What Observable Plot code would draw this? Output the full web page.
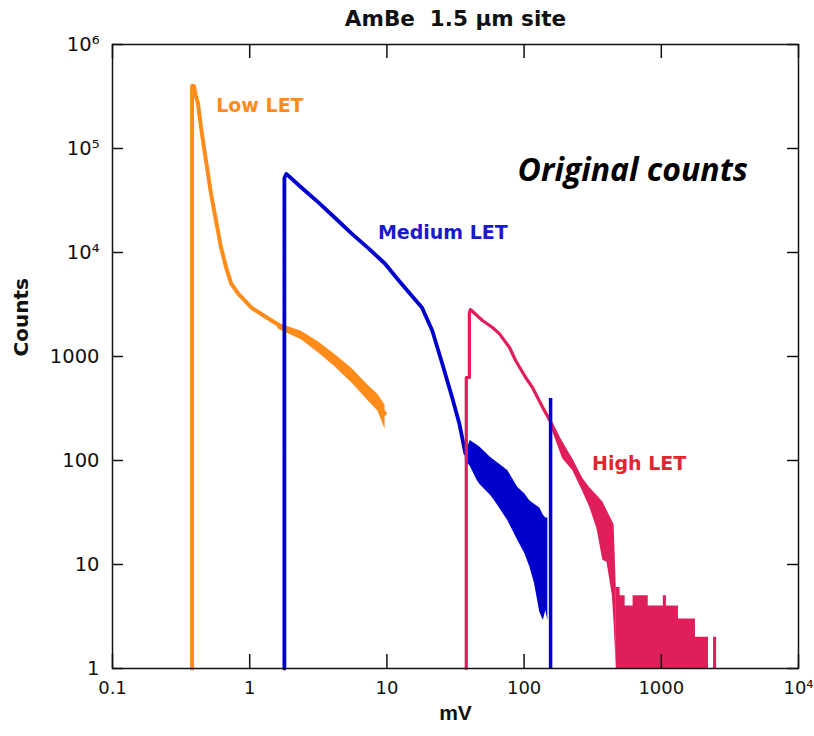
<!DOCTYPE html>
<html>
<head>
<meta charset="utf-8">
<script src="https://cdn.jsdelivr.net/npm/d3@7"></script>
<script src="https://cdn.jsdelivr.net/npm/@observablehq/plot@0.6"></script>
<style>
  html, body { margin: 0; padding: 0; background: #fff; }
</style>
</head>
<body>
<div id="chart"></div>
<script>
// ---- Axis ticks ----
const xTicks = [0.1, 1, 10, 100, 1000, 10000];
const xTickLabels = ["0.1", "1", "10", "100", "1000", "10⁴"];
const yTicks = [1, 10, 100, 1000, 1e4, 1e5, 1e6];
const yTickLabels = ["1", "10", "100", "1000", "10⁴", "10⁵", "10⁶"];

// ---- Low LET (orange) ----
const lowX = [0.38, 0.38, 0.392, 0.405, 0.42, 0.442, 0.48, 0.522, 0.568, 0.618, 0.673, 0.732, 0.824, 1.026, 1.367, 1.79, 2.38, 3.18, 4.16, 5.54, 7.38, 9.66];
const lowY = [1, 4.0e5, 4.0e5, 3.2e5, 2.71e5, 1.59e5, 7.67e4, 3.69e4, 2.03e4, 1.12e4, 7.18e3, 5.04e3, 4.03e3, 2.96e3, 2.32e3, 1.86e3, 1.59e3, 1.22e3, 915, 657, 441, 283];
const lowBandX = [1.6, 2.38, 3.18, 4.16, 5.54, 7.38, 8.6, 9.7];
const lowBandLo = [1.85e3, 1.45e3, 1.08e3, 800, 560, 370, 300, 200];
const lowBandHi = [2.1e3, 1.75e3, 1.38e3, 1.05e3, 770, 520, 430, 340];

// ---- Medium LET (blue) ----
const medX = [1.79, 1.79, 1.85, 2.38, 3.18, 4.16, 5.54, 7.38, 9.66, 12.2, 14.7, 18.0, 21.4, 25.3, 29.9, 33.7, 37.3];
const medY = [1, 5.2e4, 5.7e4, 4.22e4, 3.02e4, 2.17e4, 1.52e4, 1.09e4, 7.84e3, 5.38e3, 4.03e3, 2.96e3, 1.78e3, 857, 403, 227, 117];
const medBandX = [37.3, 40.5, 45.6, 48, 57, 61, 76, 90, 101, 110, 119, 130, 138, 144, 149];
const medBandHi = [117, 156, 140, 133, 107, 100, 80, 55, 48, 41, 38, 35, 30, 28, 28];
const medBandLo = [100, 88, 64, 58, 46, 41, 26.5, 17, 12.8, 9.5, 6.6, 3.5, 2.9, 3.6, 2.9];
const medSpikeX = [156];
const medSpikeY = [394];

// ---- High LET (crimson) ----
const highX = [37.9, 37.9, 39.9, 39.9, 40.6, 49.7, 58.8, 66, 78.3, 86.7, 102.6, 115, 136.7, 154, 182, 215];
const highY = [1, 628, 628, 2600, 2830, 2220, 1900, 1660, 1220, 915, 628, 504, 323, 243, 156, 107];
const highBandX = [154, 191, 226, 268, 300, 340, 375, 402, 440, 453, 470];
const highBandHi = [260, 142, 104, 67, 55, 46, 40, 33, 26, 24, 6];
const highBandLo = [225, 104, 80, 50, 36, 22, 11, 10.5, 5, 2.7, 1];
const highTailX = [470, 501, 545, 623, 803, 1035, 1089, 1334, 1774, 2208, 2404, 2530];
const highTailY = [6, 5, 4, 5, 4, 5, 4, 3, 2, 1, 2, 1];

// ---- Annotations ----
const seriesNames = ["Low LET", "Medium LET", "High LET"];
const seriesColors = ["#FF8C1A", "#0000CC", "#E01E5A"];
const labelColors = ["#FF8C1A", "#1A1ACC", "#E3262E"];
const labelX = [0.57, 8.6, 313];
const labelY = [2.54e5, 1.56e4, 93.6];
const noteText = ["Original counts"];
const noteX = [89.6];
const noteY = [6.1e4];

const zip = (xs, ys) => xs.map((x, i) => ({x, y: ys[i]}));
const band = (xs, lo, hi) => xs.map((x, i) => ({x, lo: lo[i], hi: hi[i]}));

const lowLine = zip(lowX, lowY);
const medLine = zip(medX, medY);
const highLine = zip(highX, highY);
const lowBand = band(lowBandX, lowBandLo, lowBandHi);
const medBand = band(medBandX, medBandLo, medBandHi);
const highBand = band(highBandX, highBandLo, highBandHi);
const tail = zip(highTailX, highTailY);
const spike = zip(medSpikeX, medSpikeY);
const labels = seriesNames.map((t, i) => ({t, x: labelX[i], y: labelY[i], c: labelColors[i]}));
const notes = noteText.map((t, i) => ({t, x: noteX[i], y: noteY[i]}));

const font = "'DejaVu Sans', 'Liberation Sans', Arial, sans-serif";

const chart = Plot.plot({
  width: 814,
  height: 736,
  marginLeft: 112,
  marginRight: 16,
  marginTop: 44,
  marginBottom: 68,
  x: {type: "log", domain: [0.1, 1e4]},
  y: {type: "log", domain: [1, 1e6]},
  style: {fontFamily: font, background: "#fff", color: "#111"},
  marks: [
    // noise envelopes
    Plot.areaY(lowBand, {x: "x", y1: "lo", y2: "hi", fill: seriesColors[0]}),
    Plot.areaY(medBand, {x: "x", y1: "lo", y2: "hi", fill: seriesColors[1]}),
    Plot.areaY(highBand, {x: "x", y1: "lo", y2: "hi", fill: seriesColors[2]}),
    Plot.areaY(tail, {x: "x", y1: 1, y2: "y", fill: seriesColors[2], curve: "step-after"}),
    // main curves
    Plot.line(lowLine, {x: "x", y: "y", stroke: seriesColors[0], strokeWidth: 4}),
    Plot.line(medLine, {x: "x", y: "y", stroke: seriesColors[1], strokeWidth: 3.8}),
    Plot.line(highLine, {x: "x", y: "y", stroke: seriesColors[2], strokeWidth: 3.2}),
    Plot.ruleX(spike, {x: "x", y1: 1, y2: "y", stroke: seriesColors[1], strokeWidth: 3.5}),
    // frame + inward ticks
    Plot.frame({stroke: "#111", strokeWidth: 1.5}),
    Plot.ruleX(xTicks, {x: d => d, insetTop: 624 - 14, stroke: "#111", strokeWidth: 1.5}),
    Plot.ruleX(xTicks, {x: d => d, insetBottom: 624 - 14, stroke: "#111", strokeWidth: 1.5}),
    Plot.ruleY(yTicks, {y: d => d, insetRight: 686 - 11, stroke: "#111", strokeWidth: 1.5}),
    Plot.ruleY(yTicks, {y: d => d, insetLeft: 686 - 11, stroke: "#111", strokeWidth: 1.5}),
    // tick labels
    Plot.axisX(xTicks, {anchor: "bottom", tickSize: 0, tickPadding: 13, fontSize: 18,
      tickFormat: d => xTickLabels[xTicks.indexOf(d)], label: null}),
    Plot.axisY(yTicks, {anchor: "left", tickSize: 0, tickPadding: 13, fontSize: 19.5,
      tickFormat: d => yTickLabels[yTicks.indexOf(d)], label: null}),
    // axis titles and title
    Plot.text(["AmBe  1.5 μm site"], {frameAnchor: "top", dy: -34, fontSize: 21.5, fontWeight: "bold", fill: "#111"}),
    Plot.text(["mV"], {frameAnchor: "bottom", dy: 51, fontSize: 21, fontWeight: "bold", fill: "#111",
      fontFamily: "'Liberation Sans', Arial, sans-serif"}),
    Plot.text(["Counts"], {frameAnchor: "left", dx: -91, rotate: -90, fontSize: 20, fontWeight: "bold", fill: "#111"}),
    // series labels
    Plot.text(labels, {x: "x", y: "y", text: "t", fill: "c", textAnchor: "start", fontSize: 19, fontWeight: "bold"}),
    Plot.text(notes, {x: "x", y: "y", text: "t", textAnchor: "start", fontSize: 32, fontWeight: "bold",
      fontStyle: "italic", fontFamily: "'Open Sans', 'Noto Sans', sans-serif", fill: "#000"})
  ]
});

document.getElementById("chart").appendChild(chart);
</script>
</body>
</html>
